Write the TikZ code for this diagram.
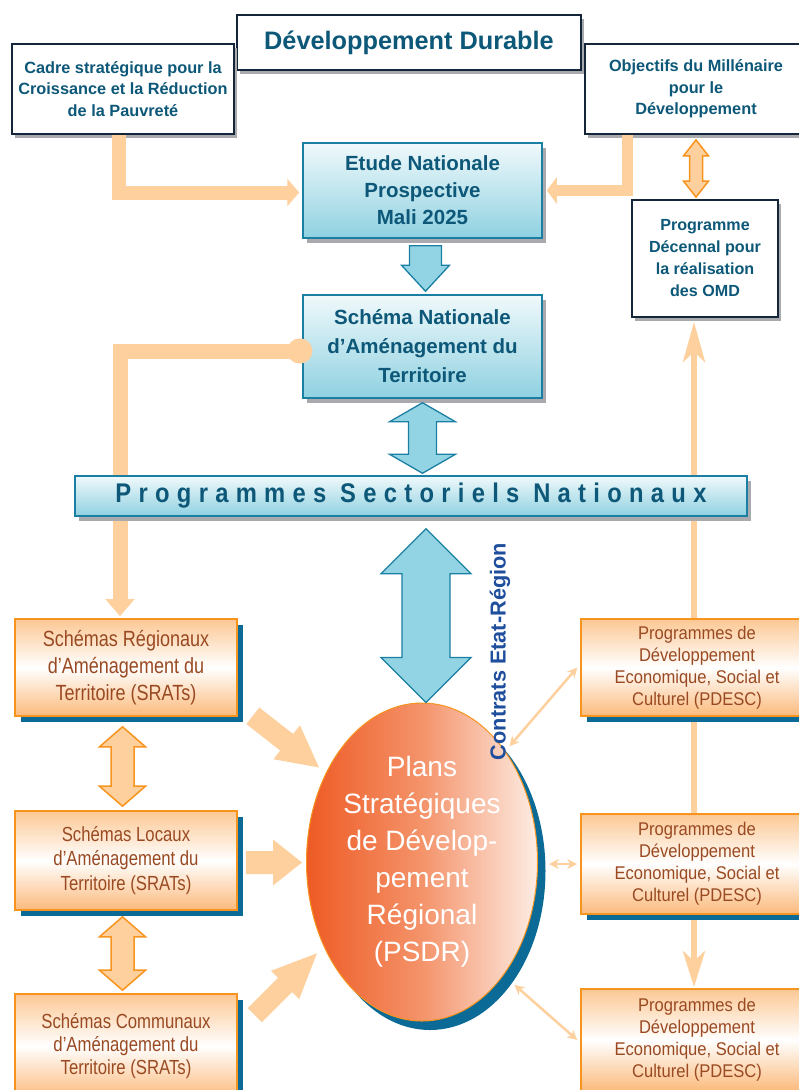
\documentclass[tikz,border=0pt]{standalone}
\usepackage{fontspec}
\setmainfont{Liberation Sans}
\newfontfamily\nA[FakeStretch=0.82]{Liberation Sans}
\newfontfamily\nB[FakeStretch=0.9]{Liberation Sans}
\newfontfamily\spc[FakeStretch=0.88,LetterSpace=27]{Liberation Sans}
\usetikzlibrary{shapes.geometric,arrows.meta,calc,shadows}
\definecolor{cNavy}{HTML}{15263A}
\definecolor{cTeal}{HTML}{0D5878}
\definecolor{cSGray}{HTML}{A8AAAD}
\definecolor{cBTop}{HTML}{F0F9FB}
\definecolor{cBBot}{HTML}{8FD1E1}
\definecolor{cBBorder}{HTML}{1B7FA3}
\definecolor{cBFill}{HTML}{92D4E3}
\definecolor{cOBorder}{HTML}{F7941D}
\definecolor{cOTop}{HTML}{FCC894}
\definecolor{cOBot}{HTML}{FBBA7C}
\definecolor{cOText}{HTML}{9A4A22}
\definecolor{cLOrange}{HTML}{FDD09E}
\definecolor{cBShadow}{HTML}{0B6B96}
\definecolor{cELeft}{HTML}{EE5A24}
\definecolor{cEMid}{HTML}{F4936A}
\definecolor{cERight}{HTML}{FDEDE4}
\definecolor{cCBlue}{HTML}{1E4E9C}
\newcommand\FatArrow[6]{%
  \path ($(#3)!#6!(#2)$) coordinate (fabase);
  \path[#1] ($(#2)!#4!90:(#3)$) -- ($(fabase)!#4!90:(#3)$) -- ($(fabase)!#5!90:(#3)$) -- (#3) -- ($(fabase)!#5!-90:(#3)$) -- ($(fabase)!#4!-90:(#3)$) -- ($(#2)!#4!-90:(#3)$) -- cycle;}
\newcommand\FatDArrow[6]{%
  \path ($(#2)!#6!(#3)$) coordinate (fdA);
  \path ($(#3)!#6!(#2)$) coordinate (fdB);
  \path[#1] (#2) -- ($(fdA)!#5!90:(#3)$) -- ($(fdA)!#4!90:(#3)$) -- ($(fdB)!#4!90:(#3)$) -- ($(fdB)!#5!90:(#3)$) -- (#3) -- ($(fdB)!#5!-90:(#3)$) -- ($(fdB)!#4!-90:(#3)$) -- ($(fdA)!#4!-90:(#3)$) -- ($(fdA)!#5!-90:(#3)$) -- cycle;}
\begin{document}
\begin{tikzpicture}[x=1pt,y=-1pt,
  darkbox/.style={draw=cNavy, line width=1.8pt, fill=white, text=cTeal, align=center, inner sep=0pt,
    drop shadow={shadow xshift=3pt, shadow yshift=-4pt, fill=cSGray, opacity=1}},
  bluebox/.style={draw=cBBorder, line width=1.5pt, top color=cBTop, bottom color=cBBot, text=cTeal, align=center, inner sep=0pt,
    drop shadow={shadow xshift=4pt, shadow yshift=-5pt, fill=cSGray, opacity=1}},
  orbox/.style={draw=cOBorder, line width=1.6pt, top color=cOTop, bottom color=cOBot, middle color=white, text=cOText, align=center, inner sep=0pt,
    drop shadow={shadow xshift=6pt, shadow yshift=-6pt, fill=cBShadow, opacity=1}},
  blarrow/.style={fill=cBFill, draw=cBBorder, line width=1.3pt},
  odarrow/.style={fill=cLOrange, draw=cOBorder, line width=1.5pt},
  fatfill/.style={fill=cLOrange},
  lfat/.style={draw=cLOrange},
  vline/.style={draw=cLOrange, line width=6pt, {Stealth[length=40pt,width=22pt,inset=10pt]}-{Stealth[length=36pt,width=22pt,inset=10pt]}},
  thinarr/.style={draw=cLOrange, line width=2.5pt, {Stealth[length=10pt,width=10pt]}-{Stealth[length=10pt,width=10pt]}}
]
\useasboundingbox (0,0) rectangle (799,1090);
\clip (0,0) rectangle (799,1090);
% top boxes
\node[darkbox, minimum width=344pt, minimum height=55pt, font=\bfseries\fontsize{25.3}{30}\selectfont] (dd) at (409,42.5) {Développement Durable};
\node[darkbox, minimum width=222pt, minimum height=90pt, font=\bfseries\fontsize{16.3}{21.5}\selectfont] (csrp) at (123,89) {Cadre stratégique pour la\\Croissance et la Réduction\\de la Pauvreté};
\node[darkbox, minimum width=222pt, minimum height=90pt, font=\bfseries\fontsize{16.3}{21.5}\selectfont] (omd) at (696,89) {Objectifs du Millénaire\\pour le\\Développement};
\node[darkbox, minimum width=146pt, minimum height=117pt, font=\bfseries\fontsize{16.1}{22}\selectfont] (pdomd) at (705,258.5) {Programme\\Décennal pour\\la réalisation\\des OMD};
% blue boxes
\node[bluebox, minimum width=239pt, minimum height=95pt, font=\bfseries\fontsize{20.5}{27}\selectfont] (etude) at (422.5,190.5) {Etude Nationale\\Prospective\\Mali 2025};
\node[bluebox, minimum width=239pt, minimum height=103pt, font=\bfseries\fontsize{20.5}{29}\selectfont] (snat) at (422.5,346.5) {Schéma Nationale\\d’Aménagement du\\Territoire};
% left orange boxes
\node[orbox, minimum width=222pt, minimum height=97pt, font=\nA\fontsize{22}{27}\selectfont] (sr1) at (126,667.5) {Schémas Régionaux\\d’Aménagement du\\Territoire (SRATs)};
\node[orbox, minimum width=222pt, minimum height=99pt, font=\nA\fontsize{20.4}{24.5}\selectfont] (sr2) at (126,860.5) {Schémas Locaux\\d’Aménagement du\\Territoire (SRATs)};
\node[orbox, minimum width=222pt, minimum height=104pt, font=\nA\fontsize{20.4}{23}\selectfont] (sr3) at (126,1046) {Schémas Communaux\\d’Aménagement du\\Territoire (SRATs)};
% right orange boxes
\node[orbox, minimum width=232pt, minimum height=102pt, font=\nB\fontsize{18.4}{22}\selectfont] (pd3) at (697,1040) {Programmes de\\Développement\\Economique, Social et\\Culturel (PDESC)};
\draw[vline] ($(pdomd.south)+(-11,4)$) -- ($(pd3.north)+(-3,-1)$);
\node[orbox, minimum width=232pt, minimum height=97pt, font=\nB\fontsize{18.4}{22}\selectfont] (pd1) at (697,667.5) {Programmes de\\Développement\\Economique, Social et\\Culturel (PDESC)};
\node[orbox, minimum width=232pt, minimum height=100pt, font=\nB\fontsize{18.4}{22}\selectfont] (pd2) at (697,864) {Programmes de\\Développement\\Economique, Social et\\Culturel (PDESC)};
% L arrows to Etude
\draw[lfat, line width=14pt, -{Triangle[length=12pt,width=27pt]}] ($(csrp.south)+(-4,0)$) |- ($(etude.west)+(-3,2)$);
\draw[lfat, line width=11pt, -{Triangle[length=10pt,width=26pt]}] ($(omd.south)+(-69,0)$) |- ($(etude.east)+(4,0)$);
% dot line to SRATs
\draw[lfat, line width=15pt, {Circle[length=25pt,width=25pt]}-{Triangle[length=17pt,width=28pt]}] ($(snat.west)+(10,4.5)$) -| ($(sr1.north)+(-6,-2)$);
% sectoral bar
\node[bluebox, minimum width=672pt, minimum height=40pt, font=\spc\bfseries\fontsize{27}{30}\selectfont] (psn) at (411,496) {Programmes Sectoriels Nationaux};
% ellipse
\node[ellipse, draw=cOBorder, line width=1pt, left color=cELeft, right color=cERight, middle color=cEMid,
  minimum width=231pt, minimum height=318pt, inner sep=0pt, text=white, align=center,
  font=\fontsize{28}{37}\selectfont,
  drop shadow={shadow xshift=8pt, shadow yshift=-9pt, fill=cBShadow, opacity=1}] (ell) at (422,862)
  {Plans\\Stratégiques\\de Dévelop-\\pement\\Régional\\(PSDR)};
% blue arrows
\coordinate (b1s) at ($(etude.south)+(3,7)$);
\coordinate (b1e) at ($(snat.north)+(3,-3)$);
\FatArrow{blarrow}{b1s}{b1e}{16pt}{24pt}{26pt}
\coordinate (b2s) at ($(snat.south)+(0,4)$);
\coordinate (b2e) at ($(b2s |- psn.north)+(0,-2)$);
\FatDArrow{blarrow}{b2s}{b2e}{14pt}{33pt}{19pt}
\coordinate (b3s) at ($(psn.south)+(15,12)$);
\coordinate (b3e) at (b3s |- ell.north);
\FatDArrow{blarrow}{b3s}{b3e}{24pt}{45pt}{45pt}
% contrats
\node[rotate=90, text=cCBlue, font=\bfseries\fontsize{21.7}{26}\selectfont, inner sep=0pt] (cer) at (500,651.5) {Contrats Etat-Région};
% orange double arrows left
\coordinate (o1s) at ($(sr1.south)+(-3.5,10)$);
\coordinate (o1e) at ($(sr2.north)+(-3.5,-4)$);
\FatDArrow{odarrow}{o1s}{o1e}{11.5pt}{23pt}{20pt}
\coordinate (o2s) at ($(sr2.south)+(-3.5,6)$);
\coordinate (o2e) at ($(sr3.north)+(-3.5,-3)$);
\FatDArrow{odarrow}{o2s}{o2e}{11.5pt}{23pt}{20pt}
\coordinate (o3s) at ($(omd.south)+(0,5)$);
\coordinate (o3e) at ($(o3s |- pdomd.north)+(0,-2)$);
\FatDArrow{odarrow}{o3s}{o3e}{6.5pt}{12.5pt}{16pt}
% fat arrows to ellipse
\coordinate (f1s) at ($(sr1.south east)+(15,-1)$);
\coordinate (f1e) at ($(ell.137)+(-7,-5)$);
\FatArrow{fatfill}{f1s}{f1e}{10.5pt}{21.5pt}{41pt}
\coordinate (f2s) at ($(sr2.east)+(8,2)$);
\coordinate (f2e) at ($(f2s -| ell.west)+(-4,0)$);
\FatArrow{fatfill}{f2s}{f2e}{11.5pt}{23pt}{29pt}
\coordinate (f3s) at ($(sr3.north east)+(17,22)$);
\coordinate (f3e) at ($(ell.221)+(-7,6)$);
\FatArrow{fatfill}{f3s}{f3e}{10pt}{20pt}{45pt}
% thin arrows to PDESC
\draw[thinarr] ($(ell.53)+(4,-5)$) -- ($(pd1.west)+(-3,0)$);
\draw[thinarr] ($(ell.east |- pd2.west)+(11,0)$) -- ($(pd2.west)+(-3,0)$);
\draw[thinarr] ($(ell.-53)+(9,12)$) -- ($(pd3.west)+(-3,0)$);
\end{tikzpicture}
\end{document}
